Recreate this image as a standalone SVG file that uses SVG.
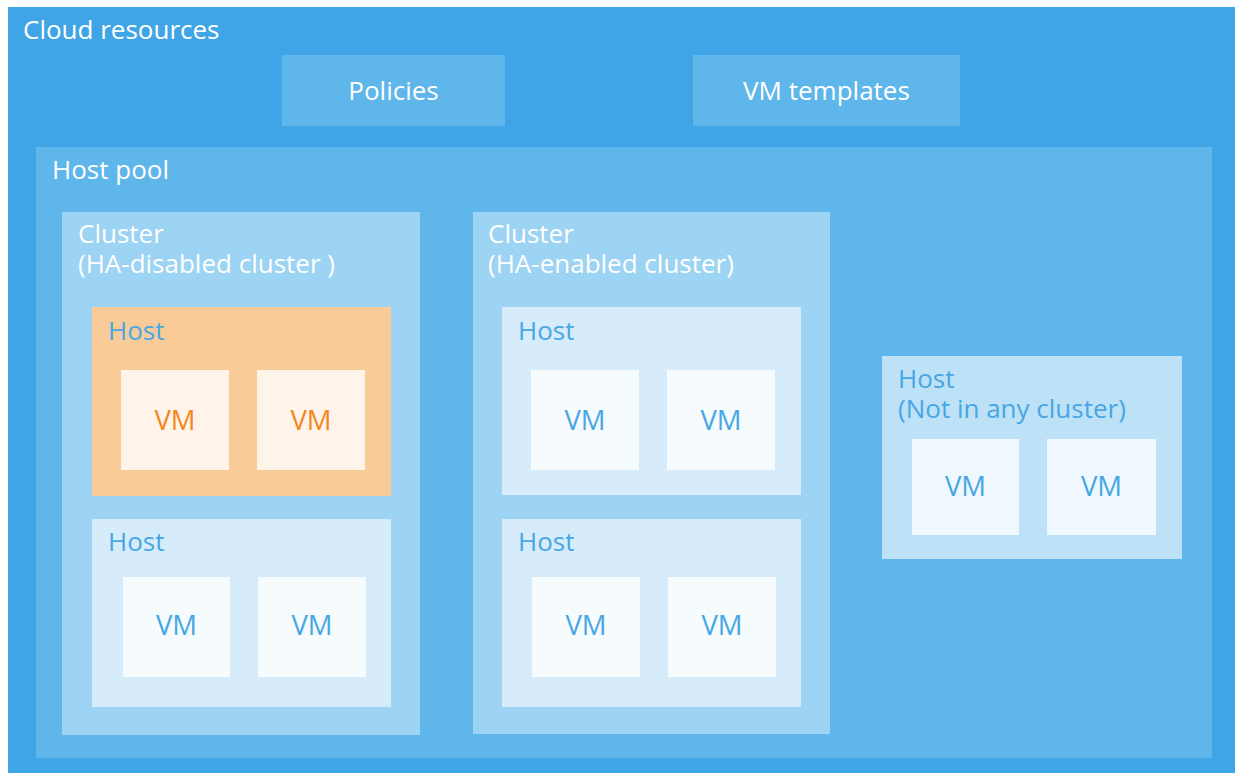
<svg xmlns="http://www.w3.org/2000/svg" width="1235" height="773" viewBox="0 0 1235 773">
  <style>
    text { font-family: "Open Sans", "Noto Sans", "DejaVu Sans", sans-serif; font-size: 26px; }
    .light { fill: #ffffff; }
    .blue { fill: #47a7e4; }
    .orange { fill: #f5861f; }
    .mid { text-anchor: middle; }
    .vmtext { font-size: 27.5px; }
    .cloud { fill: #3fa5e6; }
    .pool { fill: #5eb6eb; }
    .cluster { fill: #9dd3f3; }
    .host { fill: #d6ecfa; }
    .host-free { fill: #bde2f8; }
    .host-hot { fill: #f9cb98; }
    .vm { fill: #f6fbfe; }
    .vm-free { fill: #eff8fe; }
    .vm-hot { fill: #fff4e9; }
  </style>
  <rect width="1235" height="773" fill="#ffffff"/>

  <g id="cloud-resources">
    <rect class="cloud" x="8" y="7" width="1227" height="766"/>
    <text class="light" x="23" y="39">Cloud resources</text>
  </g>

  <g id="policies">
    <rect class="pool" x="282" y="55" width="223" height="71"/>
    <text class="light mid" x="393.5" y="100">Policies</text>
  </g>

  <g id="vm-templates">
    <rect class="pool" x="693" y="55" width="267" height="71"/>
    <text class="light mid" x="826.5" y="100">VM templates</text>
  </g>

  <g id="host-pool">
    <rect class="pool" x="36" y="147" width="1176" height="611"/>
    <text class="light" x="52" y="179">Host pool</text>
  </g>

  <g id="cluster-ha-disabled">
    <rect class="cluster" x="62" y="212" width="358" height="523"/>
    <text class="light" x="78" y="243">Cluster</text>
    <text class="light" x="78" y="273">(HA-disabled cluster )</text>
  </g>

  <g id="host-a1">
    <rect class="host-hot" x="92" y="307" width="299" height="189"/>
    <text class="blue" x="108" y="340">Host</text>
    <rect class="vm-hot" x="121" y="370" width="108" height="100"/>
    <text class="orange mid vmtext" x="175" y="430">VM</text>
    <rect class="vm-hot" x="257" y="370" width="108" height="100"/>
    <text class="orange mid vmtext" x="311" y="430">VM</text>
  </g>

  <g id="host-a2">
    <rect class="host" x="92" y="519" width="299" height="188"/>
    <text class="blue" x="108" y="551">Host</text>
    <rect class="vm" x="123" y="577" width="107" height="100"/>
    <text class="blue mid vmtext" x="176.5" y="635">VM</text>
    <rect class="vm" x="258" y="577" width="108" height="100"/>
    <text class="blue mid vmtext" x="312" y="635">VM</text>
  </g>

  <g id="cluster-ha-enabled">
    <rect class="cluster" x="473" y="212" width="357" height="522"/>
    <text class="light" x="488" y="243">Cluster</text>
    <text class="light" x="488" y="273">(HA-enabled cluster)</text>
  </g>

  <g id="host-b1">
    <rect class="host" x="502" y="307" width="299" height="188"/>
    <text class="blue" x="518" y="340">Host</text>
    <rect class="vm" x="531" y="370" width="108" height="100"/>
    <text class="blue mid vmtext" x="585" y="430">VM</text>
    <rect class="vm" x="667" y="370" width="108" height="100"/>
    <text class="blue mid vmtext" x="721" y="430">VM</text>
  </g>

  <g id="host-b2">
    <rect class="host" x="502" y="519" width="299" height="188"/>
    <text class="blue" x="518" y="551">Host</text>
    <rect class="vm" x="532" y="577" width="108" height="100"/>
    <text class="blue mid vmtext" x="586" y="635">VM</text>
    <rect class="vm" x="668" y="577" width="108" height="100"/>
    <text class="blue mid vmtext" x="722" y="635">VM</text>
  </g>

  <g id="host-standalone">
    <rect class="host-free" x="882" y="356" width="300" height="203"/>
    <text class="blue" x="898" y="388">Host</text>
    <text class="blue" x="898" y="418">(Not in any cluster)</text>
    <rect class="vm-free" x="912" y="439" width="107" height="96"/>
    <text class="blue mid vmtext" x="965.5" y="496">VM</text>
    <rect class="vm-free" x="1047" y="439" width="109" height="96"/>
    <text class="blue mid vmtext" x="1101.5" y="496">VM</text>
  </g>

  <g id="connectors"/>
</svg>
